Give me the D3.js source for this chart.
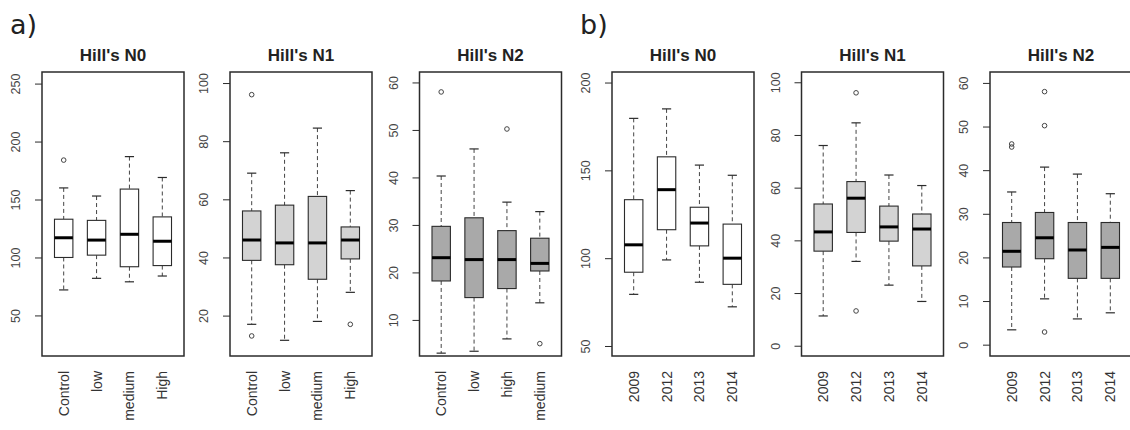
<!DOCTYPE html>
<html>
<head>
<meta charset="utf-8">
<script src="https://cdn.jsdelivr.net/npm/d3@7"></script>
<style>
  body { margin: 0; background: #fff; }
  svg { font-family: "Liberation Sans", Arial, sans-serif; }
</style>
</head>
<body>
<div id="chart"></div>
<script>
// categories
const treatA = ['Control', 'low', 'medium', 'High'];
const treatA2 = ['Control', 'low', 'high', 'medium'];
const years = ['2009', '2012', '2013', '2014'];

// box stats: [lower whisker, q1, median, q3, upper whisker]
const aN0Stats = [[72, 100, 117, 133, 160], [82, 102, 115, 132, 153], [79, 92, 120, 159, 187], [84, 93, 114, 135, 169]];
const aN0Outliers = [[184], [], [], []];
const aN1Stats = [[17, 39, 46, 56, 69], [11.5, 37.5, 45, 58, 76], [18, 32.5, 45, 61, 84.5], [28, 39.5, 46, 50.5, 63]];
const aN1Outliers = [[96, 13], [], [], [17]];
const aN2Stats = [[3, 18.2, 23.1, 29.7, 40.3], [3.4, 14.7, 22.7, 31.5, 46], [6, 16.6, 22.7, 28.8, 34.8], [13.6, 20.3, 21.9, 27.2, 32.8]];
const aN2Outliers = [[58], [], [50.2], [5]];
const bN0Stats = [[79.4, 92, 107.6, 133.3, 179.6], [99, 116.2, 139, 157.7, 185], [86.3, 107, 120, 129, 153], [72.3, 85.1, 100, 119.4, 147.2]];
const bN0Outliers = [[], [], [], []];
const bN1Stats = [[11.3, 35.9, 43.2, 53.8, 76], [32, 43, 56, 62.3, 84.6], [23, 39.7, 45.1, 53, 64.8], [16.8, 30.3, 44.3, 50, 60.8]];
const bN1Outliers = [[], [96, 13.2], [], []];
const bN2Stats = [[3.4, 17.8, 21.4, 28, 35], [10.5, 19.7, 24.5, 30.3, 40.7], [5.9, 15.2, 21.7, 28, 39.1], [7.3, 15.2, 22.3, 28, 34.6]];
const bN2Outliers = [[46, 45.3], [58, 50.2, 2.9], [], []];

// tick labels
const ticksN0a = [50, 100, 150, 200, 250];
const ticksN1 = [20, 40, 60, 80, 100];
const ticksN2a = [10, 20, 30, 40, 50, 60];
const ticksN0b = [50, 100, 150, 200];
const ticksN1b = [0, 20, 40, 60, 80, 100];
const ticksN2b = [0, 10, 20, 30, 40, 50, 60];

const titles = ["Hill's N0", "Hill's N1", "Hill's N2"];

const W = 1130, H = 430;
const plotTop = 72, plotBottom = 356, pw = 142;

const panels = [
  { left: 42, title: titles[0], cats: treatA, stats: aN0Stats, out: aN0Outliers, dom: [15, 260], ticks: ticksN0a, fill: '#ffffff' },
  { left: 230, title: titles[1], cats: treatA, stats: aN1Stats, out: aN1Outliers, dom: [6.1, 103.8], ticks: ticksN1, fill: '#d3d3d3' },
  { left: 419.5, title: titles[2], cats: treatA2, stats: aN2Stats, out: aN2Outliers, dom: [2.4, 62.2], ticks: ticksN2a, fill: '#a9a9a9' },
  { left: 612, title: titles[0], cats: years, stats: bN0Stats, out: bN0Outliers, dom: [44.3, 206], ticks: ticksN0b, fill: '#ffffff' },
  { left: 801.5, title: titles[1], cats: years, stats: bN1Stats, out: bN1Outliers, dom: [-3.9, 103.9], ticks: ticksN1b, fill: '#d3d3d3' },
  { left: 990, title: titles[2], cats: years, stats: bN2Stats, out: bN2Outliers, dom: [-2.6, 62.5], ticks: ticksN2b, fill: '#a9a9a9' },
];

const svg = d3.select('#chart').append('svg')
  .attr('width', W).attr('height', H);

svg.append('text').attr('x', 10).attr('y', 34)
  .attr('font-family', 'DejaVu Sans, sans-serif')
  .attr('font-size', 27).attr('fill', '#222').text('a)');
svg.append('text').attr('x', 580).attr('y', 34)
  .attr('font-family', 'DejaVu Sans, sans-serif')
  .attr('font-size', 27).attr('fill', '#222').text('b)');

const stroke = '#2b2b2b';

panels.forEach(p => {
  const x = d3.scalePoint().domain(p.cats).range([p.left, p.left + pw]).padding(0.66);
  const y = d3.scaleLinear().domain(p.dom).range([plotBottom, plotTop]);
  const unit = x.step();
  const bw = unit * 0.56;
  const cw = bw * 0.5;

  const g = svg.append('g');

  // title
  g.append('text')
    .attr('x', p.left + pw / 2).attr('y', 61)
    .attr('text-anchor', 'middle')
    .attr('font-size', 17).attr('font-weight', 'bold').attr('fill', '#222')
    .text(p.title);

  // y axis
  const yAxis = g.append('g')
    .attr('transform', `translate(${p.left},0)`)
    .call(d3.axisLeft(y).tickValues(p.ticks).tickSize(7).tickSizeOuter(0).tickPadding(0));
  yAxis.select('.domain').remove();
  yAxis.selectAll('.tick line').attr('stroke', stroke);
  yAxis.selectAll('.tick text')
    .attr('x', null).attr('dy', null)
    .attr('text-anchor', 'middle')
    .attr('transform', 'translate(-22,0) rotate(-90)')
    .attr('font-size', 12.5).attr('fill', '#444');

  // category labels
  g.selectAll('.cat').data(p.cats).enter().append('text')
    .attr('transform', d => `translate(${x(d) + 5},${plotBottom + 15}) rotate(-90)`)
    .attr('text-anchor', 'end')
    .attr('font-size', 14).attr('fill', '#333')
    .text(d => d);

  const boxes = g.selectAll('.box').data(p.cats).enter().append('g');

  // whiskers (dashed)
  boxes.append('line')
    .attr('x1', d => x(d)).attr('x2', d => x(d))
    .attr('y1', (d, i) => y(p.stats[i][4])).attr('y2', (d, i) => y(p.stats[i][3]))
    .attr('stroke', '#444').attr('stroke-dasharray', '4,3');
  boxes.append('line')
    .attr('x1', d => x(d)).attr('x2', d => x(d))
    .attr('y1', (d, i) => y(p.stats[i][1])).attr('y2', (d, i) => y(p.stats[i][0]))
    .attr('stroke', '#444').attr('stroke-dasharray', '4,3');

  // staples
  [0, 4].forEach(k => {
    boxes.append('line')
      .attr('x1', d => x(d) - cw / 2).attr('x2', d => x(d) + cw / 2)
      .attr('y1', (d, i) => y(p.stats[i][k])).attr('y2', (d, i) => y(p.stats[i][k]))
      .attr('stroke', stroke).attr('stroke-width', 1.2);
  });

  // box
  boxes.append('rect')
    .attr('x', d => x(d) - bw / 2).attr('width', bw)
    .attr('y', (d, i) => y(p.stats[i][3]))
    .attr('height', (d, i) => y(p.stats[i][1]) - y(p.stats[i][3]))
    .attr('fill', p.fill).attr('stroke', stroke).attr('stroke-width', 1.1);

  // median
  boxes.append('line')
    .attr('x1', d => x(d) - bw / 2).attr('x2', d => x(d) + bw / 2)
    .attr('y1', (d, i) => y(p.stats[i][2])).attr('y2', (d, i) => y(p.stats[i][2]))
    .attr('stroke', '#000').attr('stroke-width', 3);

  // outliers
  boxes.each(function (d, i) {
    d3.select(this).selectAll('circle').data(p.out[i]).enter().append('circle')
      .attr('cx', x(d)).attr('cy', v => y(v)).attr('r', 2.3)
      .attr('fill', 'none').attr('stroke', '#444').attr('stroke-width', 1);
  });

  // frame
  g.append('rect')
    .attr('x', p.left).attr('y', plotTop).attr('width', pw).attr('height', plotBottom - plotTop)
    .attr('fill', 'none').attr('stroke', stroke).attr('stroke-width', 1.5);
});
</script>
</body>
</html>
